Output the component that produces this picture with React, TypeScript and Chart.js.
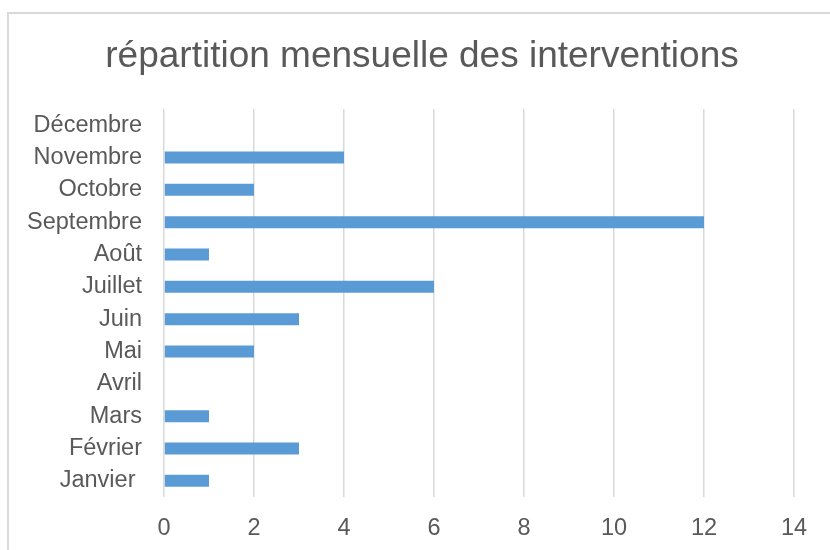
import React, { useEffect, useRef } from "react";
import { Chart, registerables } from "chart.js";

Chart.register(...registerables);

const title = "répartition mensuelle des interventions";
const months = [
  "Janvier ",
  "Février",
  "Mars",
  "Avril",
  "Mai",
  "Juin",
  "Juillet",
  "Août",
  "Septembre",
  "Octobre",
  "Novembre",
  "Décembre",
];
const interventions = [1, 3, 1, 0, 2, 3, 6, 1, 12, 2, 4, 0];
const xMin = 0;
const xMax = 14;
const xStep = 2;

const FONT = "'Liberation Sans', Arial, sans-serif";
const TEXT = "#595959";

export default function App() {
  const ref = useRef<HTMLCanvasElement | null>(null);

  useEffect(() => {
    document.body.style.margin = "0";
    const canvas = ref.current;
    if (!canvas) return;

    const framePlugin = {
      id: "frame",
      beforeDraw(chart: any) {
        const ctx = chart.ctx;
        ctx.save();
        ctx.fillStyle = "#ffffff";
        ctx.fillRect(0, 0, chart.width, chart.height);
        ctx.strokeStyle = "#D9D9D9";
        ctx.lineWidth = 2;
        ctx.strokeRect(8, 13, 900, 700);
        ctx.fillStyle = TEXT;
        ctx.font = `37px ${FONT}`;
        ctx.textAlign = "center";
        ctx.textBaseline = "alphabetic";
        ctx.fillText(title, 422, 67);
        ctx.restore();
      },
    };

    const chart = new Chart(canvas, {
      type: "bar",
      data: {
        labels: months,
        datasets: [
          {
            data: interventions,
            backgroundColor: "#5B9BD5",
            borderWidth: 0,
            barPercentage: 0.372,
            categoryPercentage: 1,
          },
        ],
      },
      options: {
        indexAxis: "y",
        responsive: false,
        animation: false,
        layout: { padding: { top: 109, right: 36, left: 0, bottom: 0 } },
        plugins: {
          legend: { display: false },
          tooltip: { enabled: false },
          title: { display: false },
        },
        scales: {
          x: {
            type: "linear",
            min: xMin,
            max: xMax,
            ticks: {
              stepSize: xStep,
              color: TEXT,
              font: { family: FONT, size: 23.5 },
              padding: 17,
            },
            grid: {
              color: "#D9D9D9",
              lineWidth: 1.5,
              drawTicks: false,
            },
            border: { display: false },
            afterFit(scale: any) {
              scale.height = 53;
            },
          },
          y: {
            type: "category",
            reverse: true,
            ticks: {
              color: TEXT,
              font: { family: FONT, size: 23.5 },
              padding: 22,
              autoSkip: false,
            },
            grid: { display: false, drawTicks: false },
            border: { display: false },
            afterFit(scale: any) {
              scale.width = 164;
            },
          },
        },
      },
      plugins: [framePlugin],
    } as any);

    return () => chart.destroy();
  }, []);

  return (
    <div style={{ position: "fixed", left: 0, top: 0, width: 830, height: 550 }}>
      <canvas ref={ref} width={830} height={550} />
    </div>
  );
}
